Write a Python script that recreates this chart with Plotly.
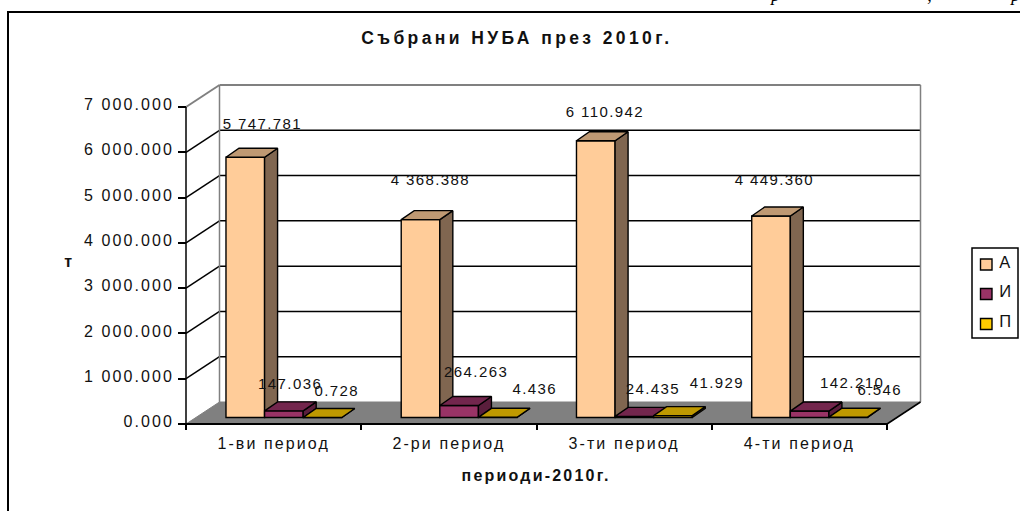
import plotly.graph_objects as go

# ---- data ----
categories = ["1-ви период", "2-ри период", "3-ти период", "4-ти период"]
series_names = ["А", "И", "П"]
values_a = [5747.781, 4368.388, 6110.942, 4449.360]
values_i = [147.036, 264.263, 24.435, 142.210]
values_p = [0.728, 4.436, 41.929, 6.546]
y_ticks = [0, 1000, 2000, 3000, 4000, 5000, 6000, 7000]

# ---- styles ----
front = ["#FFCC99", "#993366", "#FFCC00"]
top_c = ["#BF9973", "#73264D", "#BF9900"]
side_c = ["#806650", "#5A1E3C", "#806600"]
swatch = ["#FFCC99", "#993366", "#FFCC00"]
LS = "Liberation Sans, Arial, sans-serif"
INK = "#111111"
W, H = 1020, 511
PX_X = 175.25       # px per category
PX_Y = 0.045286     # px per value unit
X0, Y0 = 186, 424   # px of the front axis origin
PL, PR, PT, PB = 178, 924, 82, 430  # plot rectangle px

xr = [(PL - X0) / PX_X, (PR - X0) / PX_X]
yr = [(Y0 - PB) / PX_Y, (Y0 - PT) / PX_Y]
DX, DY = 33.5 / PX_X, 22 / PX_Y          # floor depth
BDX, BDY = 13 / PX_X, 9 / PX_Y           # bar depth
MX, MY = (DX - BDX) / 2, (DY - BDY) / 2  # bar inset on the floor
BW = 38.6 / PX_X                         # bar width

def px(x):
    return (x - PL) / (PR - PL)

def py(y):
    return (PB - y) / (PB - PT)

fig = go.Figure()
all_vals = [values_a, values_i, values_p]
axes = [("x", "y"), ("x2", "y2"), ("x3", "y3")]
for k, vals in enumerate(all_vals):
    xa, ya = axes[k]
    lefts = [i + (1 - 3 * BW) / 2 + MX + k * BW for i in range(len(vals))]
    fig.add_trace(go.Bar(
        x=[l + BW / 2 for l in lefts], y=vals, base=MY, width=BW, xaxis=xa, yaxis=ya,
        name=series_names[k], showlegend=False, hoverinfo="skip",
        marker=dict(color=front[k], line=dict(color="black", width=1.4))))
    tx, ty, sx, sy = [], [], [], []
    for l, v in zip(lefts, vals):
        r, h = l + BW, MY + v
        tx += [l, l + BDX, r + BDX, r, l, None]
        ty += [h, h + BDY, h + BDY, h, h, None]
        sx += [r, r + BDX, r + BDX, r, r, None]
        sy += [MY, MY + BDY, h + BDY, h, MY, None]
    fig.add_trace(go.Scatter(x=sx, y=sy, mode="lines", fill="toself", fillcolor=side_c[k],
                             line=dict(color="black", width=1.4), xaxis=xa, yaxis=ya,
                             showlegend=False, hoverinfo="skip"))
    fig.add_trace(go.Scatter(x=tx, y=ty, mode="lines", fill="toself", fillcolor=top_c[k],
                             line=dict(color="black", width=1.4), xaxis=xa, yaxis=ya,
                             showlegend=False, hoverinfo="skip"))

shapes = []
n = len(categories)
ymax = y_ticks[-1]
def seg(x0, y0, x1, y1, color="black", width=1.5):
    shapes.append(dict(type="line", xref="x", yref="y", layer="below", x0=x0, y0=y0, x1=x1, y1=y1,
                       line=dict(color=color, width=width)))
# floor
shapes.append(dict(type="path", xref="x", yref="y", layer="below", fillcolor="#808080",
                   line=dict(color="#808080", width=1),
                   path=f"M0,0 L{DX},{DY} L{n + DX},{DY} L{n},0 Z"))
# walls and grid
for t in y_ticks[1:-1]:
    seg(0, t, DX, t + DY)
    seg(DX, t + DY, n + DX, t + DY)
seg(0, ymax, DX, ymax + DY, "#808080", 2)
seg(DX, ymax + DY, n + DX, ymax + DY, "#808080", 2)
seg(DX, DY, DX, ymax + DY, "#808080", 1.5)
seg(n + DX, DY, n + DX, ymax + DY, "#808080", 1.5)
# front axes
seg(0, 0, 0, ymax)
seg(0, 0, n, 0, "black", 2)
seg(n, 0, n + DX, DY)

# chart frame
shapes.append(dict(type="rect", xref="paper", yref="paper", x0=px(8), x1=px(1040), y0=py(540), y1=py(12),
                   line=dict(color="black", width=2), layer="below"))
# legend box and swatches
shapes.append(dict(type="rect", xref="paper", yref="paper", x0=px(972), x1=px(1018), y0=py(338), y1=py(248),
                   line=dict(color="black", width=1.5), fillcolor="white"))
legend_rows = [264.5, 294, 324]
annotations = []
for name, c, ry in zip(series_names, swatch, legend_rows):
    shapes.append(dict(type="rect", xref="paper", yref="paper", x0=px(980.5), x1=px(992), y0=py(ry + 5.5), y1=py(ry - 5.5),
                       fillcolor=c, line=dict(color="black", width=1.4)))
    annotations.append(dict(text=name, xref="paper", yref="paper", x=px(998.5), y=py(ry - 3), xanchor="left",
                            yanchor="middle", showarrow=False, font=dict(family=LS, size=16.5, color=INK)))

# value labels
label_dx = [[17, 10, 9, 3], [6.5, 17, 19, 42], [15, 37, 44, 32]]
label_dy = [[34, 40, 29, 37], [27, 34.5, 28, 29], [26.5, 29, 33.6, 28]]
def fmt(v):
    return f"{v:,.3f}".replace(",", " ")
for k, vals in enumerate(all_vals):
    for i, v in enumerate(vals):
        annotations.append(dict(
            text=fmt(v), xref="x", yref="y", x=i + (1 - 3 * BW) / 2 + MX + (k + 0.5) * BW, y=MY + v,
            xshift=label_dx[k][i], yshift=label_dy[k][i], xanchor="center", yanchor="middle",
            showarrow=False, font=dict(family=LS, size=15, color=INK)))

# titles
annotations += [
    dict(text="<b>Събрани НУБА през 2010г.</b>", xref="paper", yref="paper", x=px(517), y=py(38),
         xanchor="center", yanchor="middle", showarrow=False, font=dict(family=LS, size=17.5, color=INK)),
    dict(text="<b>периоди-2010г.</b>", xref="paper", yref="paper", x=px(536), y=py(475),
         xanchor="center", yanchor="middle", showarrow=False, font=dict(family=LS, size=16, color=INK)),
    dict(text="<b>т</b>", xref="paper", yref="paper", x=px(69), y=py(261),
         xanchor="center", yanchor="middle", showarrow=False, font=dict(family=LS, size=16, color=INK)),
]
# clipped italic line above the frame
for g, gx in [("р", 775), (",", 930), ("р", 1015)]:
    annotations.append(dict(text=f"<i>{g}</i>", xref="paper", yref="paper", x=px(gx), y=py(-5),
                            xanchor="center", yanchor="middle", showarrow=False,
                            font=dict(family="Liberation Serif, serif", size=18, color="black")))

hidden = dict(range=xr, visible=False, fixedrange=True)
fig.update_layout(
    width=W, height=H, autosize=False, margin=dict(l=PL, r=W - PR, t=PT, b=H - PB, pad=0),
    paper_bgcolor="white", plot_bgcolor="rgba(0,0,0,0)", showlegend=False,
    shapes=shapes, annotations=annotations, barmode="overlay",
    xaxis=dict(range=xr, tickmode="array", tickvals=[i + 0.5 for i in range(n)], ticktext=categories,
               ticks="", showgrid=False, zeroline=False, showline=False, ticklabelstandoff=2,
               tickfont=dict(family=LS, size=16, color=INK),
               minor=dict(tickmode="array", tickvals=list(range(n + 1)), ticks="inside", ticklen=6,
                          tickwidth=1.5, tickcolor="black", showgrid=False)),
    yaxis=dict(range=yr, tickmode="array", tickvals=y_ticks, ticktext=[fmt(t) for t in y_ticks],
               ticks="inside", ticklen=8, tickwidth=1.5, tickcolor="black", showgrid=False, zeroline=False,
               showline=False, tickfont=dict(family=LS, size=16, color=INK), ticklabelstandoff=3),
    xaxis2=dict(overlaying="x", anchor="y2", **hidden), xaxis3=dict(overlaying="x", anchor="y3", **hidden),
    yaxis2=dict(overlaying="y", anchor="x2", range=yr, visible=False),
    yaxis3=dict(overlaying="y", anchor="x3", range=yr, visible=False),
)

post = """
document.body.style.margin='0';
document.body.style.overflow='hidden';
document.querySelectorAll('svg text').forEach(function(t){
  var s='1.4px', c=t.textContent;
  if(c.indexOf('НУБА')>=0){s='3.4px';}
  else if(c.indexOf('периоди')>=0){s='2.2px';}
  else if(t.closest('.xtick')||t.closest('.ytick')){s='2.1px';}
  t.style.letterSpacing=s;
  if(t.closest('.ytick')){t.setAttribute('dy','-2.5');}
});
"""
fig.write_html("out.html", post_script=post, config={"displayModeBar": False})
